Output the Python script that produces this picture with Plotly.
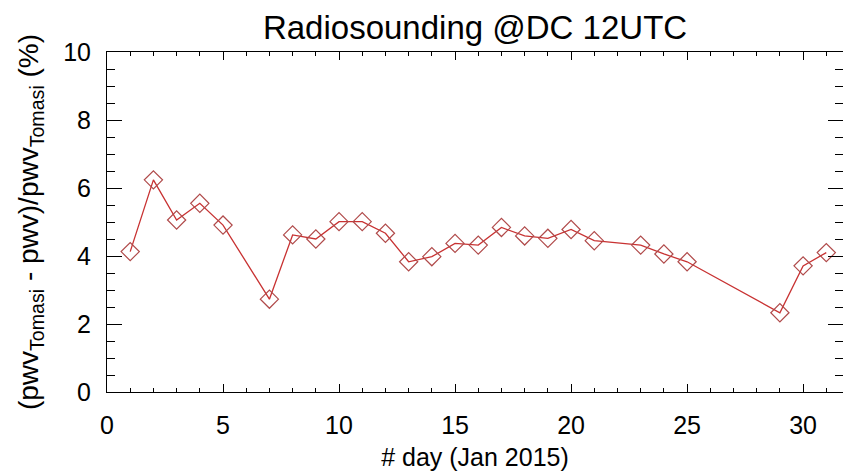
import plotly.graph_objects as go

days = [1, 2, 3, 4, 5, 7, 8, 9, 10, 11, 12, 13, 14, 15, 16, 17, 18, 19, 20, 21, 23, 24, 25, 29, 30, 31]
values = [4.13, 6.24, 5.06, 5.55, 4.91, 2.73, 4.62, 4.50, 5.01, 5.01, 4.67, 3.83, 3.98, 4.37,
          4.32, 4.84, 4.59, 4.52, 4.78, 4.45, 4.32, 4.06, 3.83, 2.33, 3.71, 4.10]

title_text = "Radiosounding @DC 12UTC"
x_title = "# day (Jan 2015)"
y_title = "(pwv<sub>Tomasi</sub> - pwv)/pwv<sub>Tomasi</sub> (%)"

FONT = "Liberation Sans, Arial, sans-serif"

fig = go.Figure()
fig.add_trace(go.Scatter(
    x=days, y=values, mode="lines+markers",
    line=dict(color="#c83232", width=1.3),
    marker=dict(symbol="diamond-open", size=14, color="#b04a4a", line=dict(width=1.2, color="#b04a4a")),
    showlegend=False,
))

fig.update_layout(
    width=843, height=476,
    margin=dict(l=107, r=0, t=52, b=84),
    paper_bgcolor="white", plot_bgcolor="white",
    font=dict(family=FONT, color="black"),
    title=dict(text=title_text, x=0.5635, xanchor="center", y=0.942, yanchor="middle",
               font=dict(size=33, family=FONT, color="black")),
)

fig.update_xaxes(
    range=[0, 31.72], autorange=False,
    tickmode="array", tickvals=[0, 5, 10, 15, 20, 25, 30],
    ticks="inside", ticklen=8, tickwidth=1, tickcolor="black",
    minor=dict(ticks="inside", dtick=1, ticklen=4, tickwidth=1, tickcolor="black"),
    showline=True, linecolor="black", linewidth=1, mirror="ticks",
    showgrid=False, zeroline=False,
    tickfont=dict(size=25, family=FONT), ticklabelstandoff=11,
    title=dict(text=x_title, font=dict(size=25, family=FONT), standoff=10),
)
fig.update_yaxes(
    range=[0, 10], autorange=False,
    tickmode="array", tickvals=[0, 2, 4, 6, 8, 10],
    ticks="inside", ticklen=15, tickwidth=1, tickcolor="black",
    minor=dict(ticks="inside", dtick=0.5, ticklen=8, tickwidth=1, tickcolor="black"),
    showline=True, linecolor="black", linewidth=1, mirror="ticks",
    showgrid=False, zeroline=False,
    tickfont=dict(size=25, family=FONT), ticklabelstandoff=10,
    title=dict(text=y_title, font=dict(size=28, family=FONT), standoff=16),
)

fig.write_html("out.html")
